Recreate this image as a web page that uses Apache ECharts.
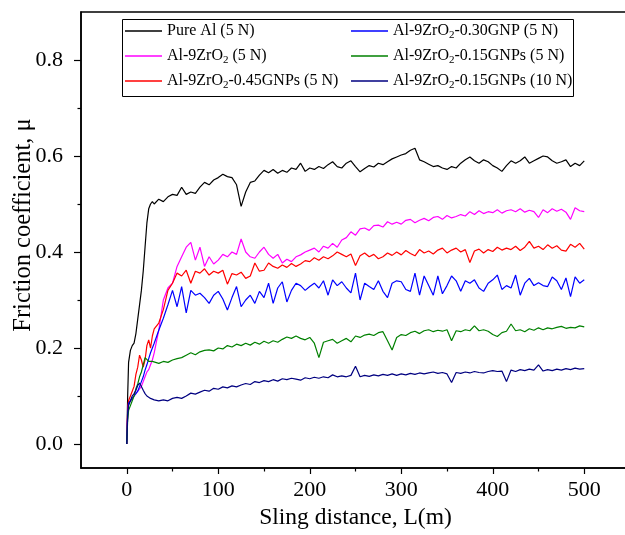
<!DOCTYPE html>
<html><head><meta charset="utf-8">
<script src="https://cdn.jsdelivr.net/npm/echarts@6/dist/echarts.min.js"></script>
<style>html,body{margin:0;padding:0;background:#fff}#c{width:625px;height:535px}</style>
</head><body><div id="c"></div><script>
// Sliding distance L (m)
const slidingDistance = [0,1,2,4,6,8,10,12,14,16,18,20,22,24,26,28,30,
35,40,45,50,55,60,65,70,75,80,
85,90,95,100,105,110,115,120,125,130,
135,140,145,150,155,160,165,170,175,180,
185,190,195,200,205,210,215,220,225,230,
235,240,245,250,255,260,265,270,275,280,
285,290,295,300,305,310,315,320,325,330,
335,340,345,350,355,360,365,370,375,380,
385,390,395,400,405,410,415,420,425,430,
435,440,445,450,455,460,465,470,475,480,
485,490,495,500];

const muPureAl = [0,0.10,0.17,0.195,0.205,0.21,0.23,0.26,0.29,0.32,0.36,0.41,0.46,0.49,0.50,0.505,0.50,
0.51,0.505,0.515,0.52,0.518,0.535,0.52,0.525,0.522,0.535,
0.545,0.54,0.55,0.555,0.562,0.557,0.555,0.54,0.495,0.525,
0.545,0.548,0.56,0.57,0.565,0.572,0.564,0.57,0.566,0.575,
0.572,0.585,0.568,0.575,0.572,0.578,0.574,0.582,0.588,0.578,
0.575,0.585,0.59,0.578,0.567,0.574,0.58,0.577,0.585,0.582,
0.588,0.594,0.598,0.602,0.605,0.612,0.616,0.592,0.588,0.583,
0.578,0.58,0.575,0.572,0.578,0.575,0.585,0.592,0.598,0.59,
0.585,0.592,0.588,0.58,0.575,0.568,0.58,0.59,0.585,0.59,
0.598,0.585,0.59,0.595,0.6,0.598,0.59,0.585,0.588,0.592,
0.578,0.585,0.58,0.59];

const muZrO2 = [0,0.07,0.085,0.09,0.095,0.10,0.098,0.11,0.115,0.12,0.13,0.14,0.15,0.155,0.165,0.175,0.19,
0.237,0.30,0.325,0.335,0.37,0.39,0.41,0.42,0.383,0.41,
0.37,0.39,0.375,0.383,0.395,0.39,0.40,0.395,0.427,0.40,
0.39,0.387,0.40,0.41,0.395,0.387,0.395,0.377,0.385,0.38,
0.39,0.394,0.40,0.404,0.408,0.40,0.412,0.408,0.418,0.41,
0.425,0.43,0.442,0.435,0.448,0.45,0.445,0.455,0.456,0.452,
0.463,0.458,0.462,0.458,0.466,0.468,0.461,0.466,0.47,0.465,
0.472,0.474,0.468,0.476,0.471,0.474,0.478,0.475,0.484,0.478,
0.486,0.48,0.484,0.482,0.488,0.481,0.486,0.488,0.484,0.49,
0.483,0.487,0.484,0.472,0.488,0.482,0.49,0.485,0.489,0.483,
0.468,0.492,0.486,0.484];

const muGNP045 = [0,0.07,0.09,0.10,0.11,0.12,0.145,0.16,0.185,0.175,0.16,0.175,0.205,0.217,0.20,0.225,0.24,
0.252,0.28,0.32,0.335,0.356,0.35,0.362,0.335,0.36,0.356,
0.365,0.352,0.36,0.356,0.362,0.333,0.355,0.352,0.358,0.345,
0.35,0.377,0.36,0.362,0.377,0.37,0.366,0.373,0.368,0.376,
0.37,0.375,0.382,0.38,0.388,0.383,0.39,0.386,0.392,0.40,
0.395,0.39,0.396,0.372,0.392,0.398,0.39,0.395,0.386,0.39,
0.398,0.393,0.40,0.394,0.403,0.397,0.392,0.405,0.398,0.402,
0.396,0.404,0.408,0.398,0.404,0.408,0.40,0.405,0.378,0.402,
0.406,0.398,0.405,0.401,0.41,0.404,0.408,0.405,0.412,0.403,
0.41,0.422,0.408,0.412,0.405,0.415,0.408,0.413,0.404,0.402,
0.416,0.41,0.418,0.406];

const muGNP030 = [0,0.06,0.085,0.09,0.095,0.10,0.105,0.11,0.12,0.13,0.14,0.154,0.165,0.178,0.19,0.20,0.21,
0.237,0.262,0.29,0.32,0.286,0.328,0.273,0.32,0.31,0.314,
0.305,0.293,0.31,0.318,0.302,0.279,0.305,0.328,0.286,0.30,
0.31,0.293,0.318,0.305,0.335,0.293,0.325,0.338,0.296,0.32,
0.335,0.33,0.32,0.328,0.335,0.325,0.34,0.31,0.342,0.33,
0.338,0.325,0.315,0.356,0.30,0.335,0.328,0.322,0.34,0.318,
0.305,0.335,0.34,0.338,0.322,0.318,0.356,0.31,0.35,0.33,
0.31,0.35,0.313,0.33,0.35,0.34,0.318,0.34,0.335,0.342,
0.325,0.318,0.335,0.342,0.352,0.322,0.33,0.325,0.352,0.31,
0.335,0.345,0.33,0.336,0.33,0.328,0.348,0.34,0.322,0.346,
0.307,0.348,0.335,0.342];

const muGNP015 = [0,0.05,0.07,0.08,0.09,0.10,0.115,0.125,0.14,0.15,0.165,0.18,0.176,0.172,0.17,0.172,0.17,
0.168,0.172,0.17,0.175,0.178,0.18,0.185,0.19,0.186,0.192,
0.195,0.196,0.194,0.2,0.198,0.205,0.202,0.208,0.205,0.21,
0.206,0.212,0.208,0.214,0.21,0.215,0.212,0.218,0.223,0.22,
0.225,0.22,0.217,0.222,0.21,0.18,0.212,0.215,0.218,0.21,
0.215,0.22,0.213,0.225,0.222,0.227,0.229,0.226,0.232,0.234,
0.215,0.196,0.222,0.228,0.226,0.232,0.235,0.23,0.236,0.238,
0.234,0.237,0.235,0.238,0.215,0.236,0.234,0.238,0.236,0.246,
0.236,0.238,0.235,0.228,0.224,0.232,0.235,0.25,0.236,0.238,
0.234,0.24,0.237,0.242,0.238,0.242,0.24,0.243,0.245,0.241,
0.243,0.242,0.246,0.244];

const muGNP015at10N = [0,0.06,0.08,0.09,0.10,0.105,0.112,0.122,0.127,0.12,0.112,0.105,0.10,0.098,0.095,0.093,0.092,
0.09,0.092,0.09,0.095,0.097,0.095,0.1,0.106,0.104,0.108,
0.112,0.11,0.116,0.114,0.119,0.117,0.121,0.119,0.123,0.126,
0.124,0.13,0.128,0.132,0.13,0.134,0.131,0.136,0.134,0.137,
0.135,0.133,0.138,0.136,0.139,0.137,0.14,0.138,0.144,0.14,
0.142,0.14,0.143,0.162,0.14,0.143,0.141,0.144,0.142,0.145,
0.143,0.146,0.143,0.146,0.144,0.147,0.145,0.148,0.146,0.148,
0.15,0.147,0.149,0.146,0.128,0.149,0.147,0.15,0.148,0.151,
0.149,0.148,0.151,0.153,0.151,0.152,0.13,0.154,0.151,0.155,
0.153,0.156,0.154,0.165,0.152,0.155,0.153,0.156,0.154,0.157,
0.155,0.158,0.156,0.157];

const seriesNames = ['Pure Al (5 N)','Al-9ZrO2 (5 N)','Al-9ZrO2-0.45GNPs (5 N)',
  'Al-9ZrO2-0.30GNP (5 N)','Al-9ZrO2-0.15GNPs (5 N)','Al-9ZrO2-0.15GNPs (10 N)'];
const seriesValues = [muPureAl, muZrO2, muGNP045, muGNP030, muGNP015, muGNP015at10N];
const seriesColors = ['#000000','#ff00ff','#ff0000','#0000ff','#008000','#000080'];

const xTickLabels = [0,100,200,300,400,500];
const xMinorTicks = [50,150,250,350,450];
const yTickLabels = [0,0.2,0.4,0.6,0.8];
const yMinorTicks = [0.1,0.3,0.5,0.7];

const FONT = 'Liberation Serif';
const chart = echarts.init(document.getElementById('c'), null, {renderer:'canvas'});

const legendCommon = {
  orient:'vertical', top:21, itemWidth:37, itemHeight:1.6, itemGap:5, padding:0,
  icon:'rect',
  selectedMode:false,
  formatter: n => n.replace('ZrO2','ZrO{sub|2}'),
  textStyle:{fontFamily:FONT, fontSize:16, color:'#000', lineHeight:20,
    rich:{sub:{fontFamily:FONT, fontSize:11, color:'#000', verticalAlign:'bottom', lineHeight:11}}}
};

const option = {
  animation:false,
  backgroundColor:'#fff',
  grid:{left:81, top:12, bottom:67, right:-5, outerBoundsMode:'none', containLabel:false,
        show:true, borderColor:'#000', borderWidth:1.5, backgroundColor:'transparent'},
  legend:[
    Object.assign({}, legendCommon, {left:125, data:seriesNames.slice(0,3)}),
    Object.assign({}, legendCommon, {left:351, data:seriesNames.slice(3)})
  ],
  graphic:[{type:'rect', shape:{x:122.5, y:19.5, width:451, height:77}, style:{fill:'none', stroke:'#000', lineWidth:1}, z:100}],
  xAxis:[
    {type:'value', min:-50, max:550,
     name:'Sling distance, L(m)', nameLocation:'middle', nameGap:38, nameMoveOverlap:false,
     nameTextStyle:{fontFamily:FONT, fontSize:23.5, color:'#000'},
     axisLine:{onZero:false, lineStyle:{color:'#000', width:1.5}},
     axisTick:{customValues:xTickLabels, length:6, lineStyle:{color:'#000', width:1.2}},
     axisLabel:{customValues:xTickLabels, fontFamily:FONT, fontSize:22, color:'#000', margin:11},
     splitLine:{show:false}},
    {type:'value', min:-50, max:550, position:'bottom',
     axisLine:{show:false, onZero:false},
     axisTick:{customValues:xMinorTicks, length:3.5, lineStyle:{color:'#000', width:1.2}},
     axisLabel:{show:false}, splitLine:{show:false}}
  ],
  yAxis:[
    {type:'value', min:-0.05, max:0.9,
     name:'Friction coefficient, \u03bc', nameLocation:'middle', nameGap:45, nameMoveOverlap:false,
     nameTextStyle:{fontFamily:FONT, fontSize:24.5, color:'#000', padding:[0,0,0,30]},
     axisLine:{onZero:false, lineStyle:{color:'#000', width:1.5}},
     axisTick:{customValues:yTickLabels, length:7, lineStyle:{color:'#000', width:1.2}},
     axisLabel:{customValues:yTickLabels, fontFamily:FONT, fontSize:22, color:'#000', margin:18,
       formatter: v => Number(v).toFixed(1)},
     splitLine:{show:false}},
    {type:'value', min:-0.05, max:0.9, position:'left',
     axisLine:{show:false, onZero:false},
     axisTick:{customValues:yMinorTicks, length:3.5, lineStyle:{color:'#000', width:1.2}},
     axisLabel:{show:false}, splitLine:{show:false}}
  ],
  series: seriesNames.map((name, i) => ({
    name, type:'line', xAxisIndex:0, yAxisIndex:0, symbol:'none', showSymbol:false,
    lineStyle:{color:seriesColors[i], width:1.2}, itemStyle:{color:seriesColors[i]},
    data: slidingDistance.map((x, j) => [x, seriesValues[i][j]])
  }))
};
chart.setOption(option);
</script></body></html>
